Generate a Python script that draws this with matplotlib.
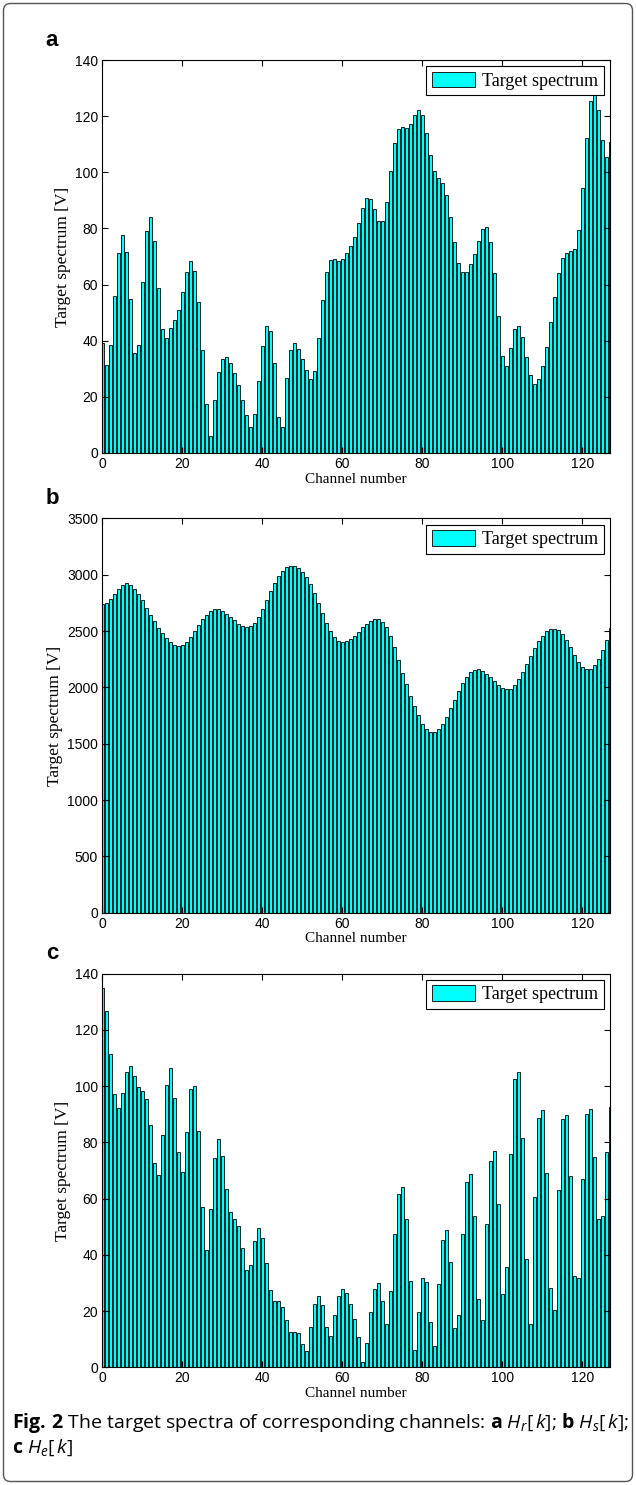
import numpy as np
import matplotlib.pyplot as plt
from matplotlib.patches import FancyBboxPatch

plt.rcParams['mathtext.fontset'] = 'custom'
plt.rcParams['mathtext.rm'] = 'Open Sans'
plt.rcParams['mathtext.it'] = 'Open Sans:italic'
plt.rcParams['mathtext.bf'] = 'Open Sans:bold'

channels = np.arange(128)

# panel a: H_r[k]
spec_a = [39.2, 31.5, 38.6, 56.0, 71.4, 77.6, 71.6, 54.9, 35.6, 38.6,
          61.0, 79.0, 84.1, 75.5, 58.8, 44.2, 40.9, 44.4, 47.5, 51.0,
          57.4, 64.6, 68.3, 64.7, 53.8, 36.7, 17.5, 6.1, 18.9, 28.9,
          33.6, 34.2, 32.1, 28.5, 24.1, 18.9, 13.7, 9.4, 13.9, 25.8,
          38.0, 45.2, 43.5, 31.9, 12.9, 9.1, 26.6, 36.7, 39.2, 37.1,
          33.6, 29.7, 26.4, 29.2, 41.0, 54.5, 64.5, 68.8, 69.0, 68.4,
          69.1, 71.1, 73.8, 77.1, 81.9, 87.4, 90.9, 90.6, 86.9, 82.8,
          82.8, 89.5, 100.5, 110.3, 115.4, 116.3, 115.8, 117.1, 120.3, 122.2,
          120.5, 114.1, 106.3, 100.6, 98.0, 96.1, 92.0, 84.2, 75.1, 67.7,
          64.6, 64.6, 67.5, 70.8, 75.5, 79.9, 80.5, 75.3, 64.3, 48.8,
          34.7, 31.0, 37.5, 44.1, 45.4, 41.4, 34.3, 27.7, 24.6, 26.2,
          30.9, 37.9, 46.6, 55.7, 64.1, 69.6, 71.3, 72.0, 72.7, 79.6,
          94.3, 112.1, 125.3, 129.0, 122.3, 111.4, 105.3, 110.8]

# panel b: H_s[k]
spec_b = [2737, 2751, 2787, 2828, 2873, 2905, 2923, 2911, 2876, 2831,
          2775, 2707, 2642, 2586, 2530, 2479, 2438, 2402, 2376, 2370,
          2379, 2402, 2447, 2500, 2553, 2604, 2645, 2678, 2692, 2692,
          2678, 2654, 2627, 2595, 2565, 2544, 2536, 2541, 2571, 2624,
          2692, 2772, 2852, 2929, 2991, 3036, 3065, 3080, 3080, 3059,
          3024, 2982, 2917, 2840, 2751, 2657, 2568, 2497, 2444, 2408,
          2402, 2411, 2432, 2459, 2491, 2533, 2565, 2592, 2604, 2604,
          2580, 2533, 2453, 2355, 2246, 2130, 2030, 1926, 1834, 1754,
          1675, 1627, 1604, 1607, 1627, 1672, 1740, 1815, 1890, 1965,
          2035, 2095, 2135, 2155, 2160, 2145, 2120, 2090, 2060, 2025,
          1995, 1985, 1990, 2020, 2070, 2135, 2205, 2280, 2350, 2410,
          2460, 2500, 2520, 2522, 2505, 2470, 2420, 2360, 2290, 2225,
          2180, 2160, 2165, 2195, 2250, 2330, 2425, 2530]

# panel c: H_e[k]
spec_c = [135.0, 126.8, 111.5, 97.2, 92.2, 97.7, 105.0, 107.0, 103.7, 99.8,
          98.2, 95.4, 86.1, 72.6, 68.3, 82.6, 100.5, 106.4, 95.7, 76.6,
          69.4, 83.7, 98.9, 100.2, 83.9, 57.1, 41.6, 56.2, 74.5, 81.1,
          75.3, 63.5, 55.2, 52.9, 50.3, 42.6, 34.6, 36.4, 44.8, 49.5,
          46.1, 37.1, 27.4, 23.5, 23.5, 21.6, 16.8, 12.7, 12.6, 12.3,
          8.3, 5.9, 14.4, 22.4, 25.5, 22.1, 14.2, 11.3, 18.5, 25.5,
          28.0, 26.3, 22.4, 17.1, 10.6, 1.9, 8.8, 19.8, 27.9, 29.8,
          23.5, 15.5, 27.3, 47.4, 61.8, 64.1, 52.7, 30.7, 6.0, 19.6,
          31.7, 30.2, 16.1, 7.5, 29.5, 45.3, 48.8, 37.4, 13.8, 18.6,
          47.3, 66.0, 68.7, 53.9, 24.3, 16.7, 50.8, 73.5, 76.9, 58.2,
          25.9, 35.8, 75.9, 102.5, 105.0, 81.6, 38.4, 15.3, 60.5, 88.6,
          91.6, 69.2, 28.1, 20.4, 63.0, 88.3, 89.7, 67.9, 32.5, 31.6,
          67.1, 90.0, 91.9, 74.9, 52.6, 53.9, 76.5, 92.4]

panels = [('a', spec_a, 140, 20, 60.0, 453.0),
          ('b', spec_b, 3500, 500, 518.4, 912.7),
          ('c', spec_c, 140, 20, 973.6, 1367.3)]

W, H = 636, 1485
fig = plt.figure(figsize=(W / 100, H / 100), dpi=100)

left, right = 102.3, 610.3
for letter, vals, ymax, ystep, top, bottom in panels:
    ax = fig.add_axes([left / W, 1 - bottom / H, (right - left) / W, (bottom - top) / H])
    ax.bar(channels, vals, width=0.8, color='cyan', edgecolor='black',
           linewidth=0.6, label='Target spectrum')
    ax.set_xlim(0, 127)
    ax.set_ylim(0, ymax)
    ax.set_xticks(np.arange(0, 121, 20))
    ax.set_yticks(np.arange(0, ymax + 1, ystep))
    ax.tick_params(direction='in', top=True, right=True, length=4, width=0.8,
                   labelsize=10, pad=3)
    for lab in ax.get_xticklabels() + ax.get_yticklabels():
        lab.set_family('Liberation Sans')
    for s in ax.spines.values():
        s.set_linewidth(0.8)
    ax.set_xlabel('Channel number', family='Liberation Serif', fontsize=11, labelpad=1)
    ax.set_ylabel('Target spectrum [V]', family='Liberation Serif', fontsize=12.5, labelpad=3)
    leg = ax.legend(loc='upper right', fancybox=False, edgecolor='black', framealpha=1,
                    borderaxespad=0.35, handlelength=2.4, handleheight=0.95,
                    borderpad=0.3, handletextpad=0.4,
                    prop={'family': 'Liberation Serif', 'size': 13.0})
    leg.get_frame().set_linewidth(0.8)
    fig.text(52 / W, 1 - (top - 20) / H, letter, family='Liberation Sans',
             weight='bold', fontsize=16, ha='center', va='center')

# caption
fig.text(12 / W, 1 - 1423 / H,
         r'$\mathbf{Fig.\,2}$ The target spectra of corresponding channels: '
         r'$\mathbf{a}$ $H_r[\,k]$; $\mathbf{b}$ $H_s[\,k]$;',
         family='Open Sans', fontsize=14.0, ha='left', va='center')
fig.text(12 / W, 1 - 1448 / H, r'$\mathbf{c}$ $H_e[\,k]$',
         family='Open Sans', fontsize=14.0, ha='left', va='center')

# outer frame
fig.add_artist(FancyBboxPatch((3.5, 3.5), W - 7, H - 7,
                              boxstyle='round,pad=0,rounding_size=7',
                              transform=None, facecolor='none',
                              edgecolor='#555555', linewidth=1.0))

fig.savefig('out.png', dpi=100)
